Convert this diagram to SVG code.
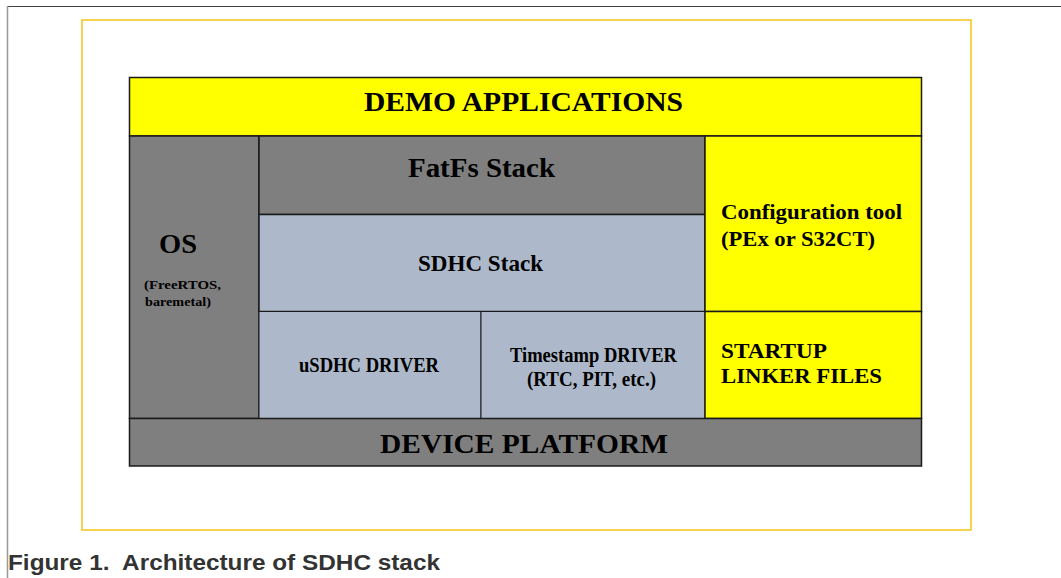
<svg xmlns="http://www.w3.org/2000/svg" width="1061" height="578" viewBox="0 0 1061 578">
<style>
.t{font-family:"Liberation Serif","Times New Roman",serif;font-weight:bold;fill:#000}
.b{stroke:#1a1a1a;stroke-width:1.5}
.y{fill:#ffff00}
.g{fill:#7f7f7f}
.s{fill:#adb9ca}
</style>
<rect width="1061" height="578" fill="#fff"/>
<line x1="7.5" y1="6.5" x2="1061" y2="6.5" stroke="#404040" stroke-width="1"/>
<line x1="7.5" y1="6" x2="7.5" y2="578" stroke="#999" stroke-width="1.5"/>
<rect x="82" y="20" width="889" height="510" fill="none" stroke="#f5c518" stroke-width="1.5"/>
<g id="demo"><rect class="y b" x="129.5" y="77.5" width="792" height="58.5"/><text class="t" x="364" y="111" font-size="27" textLength="319" lengthAdjust="spacingAndGlyphs">DEMO APPLICATIONS</text></g>
<g id="os"><rect class="g b" x="129.5" y="136" width="129.5" height="282.5"/><text class="t" x="159" y="253" font-size="27" textLength="38" lengthAdjust="spacingAndGlyphs">OS</text><text class="t" x="144" y="289" font-size="13.5" textLength="77" lengthAdjust="spacingAndGlyphs">(FreeRTOS,</text><text class="t" x="145" y="306" font-size="13.5" textLength="66" lengthAdjust="spacingAndGlyphs">baremetal)</text></g>
<g id="fatfs"><rect class="g b" x="259" y="136" width="446" height="78.5"/><text class="t" x="408" y="177" font-size="28" textLength="147" lengthAdjust="spacingAndGlyphs">FatFs Stack</text></g>
<g id="sdhc"><rect class="s b" x="259" y="214.5" width="446" height="97"/><text class="t" x="418" y="271" font-size="23.5" textLength="125" lengthAdjust="spacingAndGlyphs">SDHC Stack</text></g>
<g id="usdhc"><rect class="s" x="259" y="311.5" width="222" height="107" stroke="#1a1a1a" stroke-width="1"/><text class="t" x="299" y="372" font-size="20" textLength="140" lengthAdjust="spacingAndGlyphs">uSDHC DRIVER</text></g>
<g id="timestamp"><rect class="s" x="481" y="311.5" width="224" height="107" stroke="#1a1a1a" stroke-width="1"/><text class="t" x="510" y="362" font-size="20" textLength="167" lengthAdjust="spacingAndGlyphs">Timestamp DRIVER</text><text class="t" x="527" y="386" font-size="20" textLength="129" lengthAdjust="spacingAndGlyphs">(RTC, PIT, etc.)</text></g>
<g id="config"><rect class="y b" x="705" y="136" width="216.5" height="175.5"/><text class="t" x="721" y="219" font-size="21.5" textLength="181" lengthAdjust="spacingAndGlyphs">Configuration tool</text><text class="t" x="721" y="246" font-size="21.5" textLength="154" lengthAdjust="spacingAndGlyphs">(PEx or S32CT)</text></g>
<g id="startup"><rect class="y b" x="705" y="311.5" width="216.5" height="107"/><text class="t" x="721" y="358" font-size="22" textLength="106" lengthAdjust="spacingAndGlyphs">STARTUP</text><text class="t" x="721" y="383" font-size="22" textLength="161" lengthAdjust="spacingAndGlyphs">LINKER FILES</text></g>
<g id="platform"><rect class="g b" x="129.5" y="418.5" width="792" height="47.5"/><text class="t" x="380" y="453" font-size="28" textLength="288" lengthAdjust="spacingAndGlyphs">DEVICE PLATFORM</text></g>
<g id="connectors"></g>
<text x="8" y="570" xml:space="preserve" font-family="Liberation Sans,Arial,sans-serif" font-weight="bold" font-size="22" fill="#333" textLength="432" lengthAdjust="spacingAndGlyphs">Figure 1.  Architecture of SDHC stack</text>
</svg>
